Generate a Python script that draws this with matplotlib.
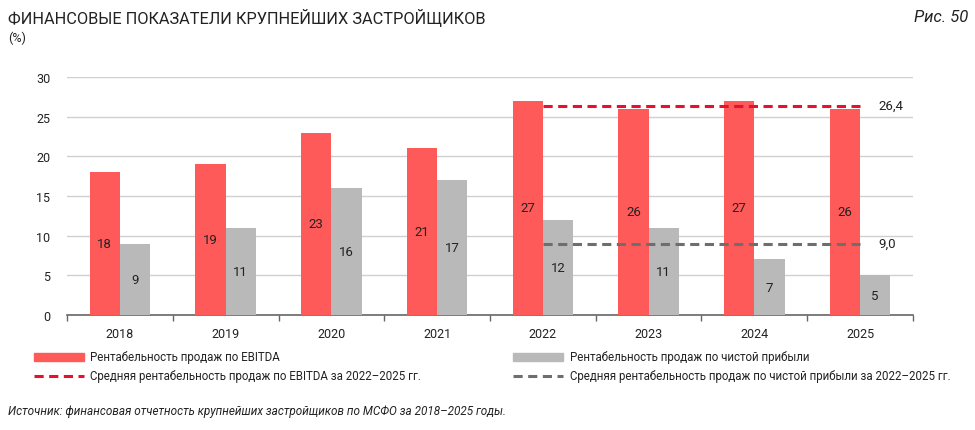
import matplotlib
matplotlib.use("Agg")
import matplotlib.pyplot as plt
import numpy as np
from matplotlib.patches import Rectangle
from matplotlib.lines import Line2D

years = ["2018", "2019", "2020", "2021", "2022", "2023", "2024", "2025"]
ebitda = [18, 19, 23, 21, 27, 26, 27, 26]
net = [9, 11, 16, 17, 12, 11, 7, 5]
avg_ebitda = 26.4
avg_net = 9.0
avg_start, avg_end = "2022", "2025"
yticks = [0, 5, 10, 15, 20, 25, 30]

title = "ФИНАНСОВЫЕ ПОКАЗАТЕЛИ КРУПНЕЙШИХ ЗАСТРОЙЩИКОВ"
fig_no = "Рис. 50"
unit = "(%)"
leg_labels = ["Рентабельность продаж по EBITDA",
              "Рентабельность продаж по чистой прибыли",
              "Средняя рентабельность продаж по EBITDA за 2022–2025 гг.",
              "Средняя рентабельность продаж по чистой прибыли за 2022–2025 гг."]
source = "Источник: финансовая отчетность крупнейших застройщиков по МСФО за 2018–2025 годы."

RED = "#FF5A5A"
GRAY = "#B8B9B8"
RED_D = "#E8102E"
GRAY_D = "#6E6E6E"
TXT = "#222222"

plt.rcParams['font.family'] = ['Roboto', 'DejaVu Sans']

W, H = 975, 431
fig = plt.figure(figsize=(W/100, H/100), dpi=100)
ax = fig.add_axes([67/W, 1-316/H, (913-67)/W, (316-78)/H])

x = np.arange(len(years))
bw = 0.285
ax.bar(x - bw/2, ebitda, bw, color=RED, zorder=3)
ax.bar(x + bw/2, net, bw, color=GRAY, zorder=3)
for i in range(len(years)):
    ax.text(x[i] - bw/2, ebitda[i]/2, str(ebitda[i]), ha='center', va='center', fontsize=9.5, color=TXT, zorder=4)
    ax.text(x[i] + bw/2, net[i]/2, str(net[i]), ha='center', va='center', fontsize=9.5, color=TXT, zorder=4)

i0, i1 = years.index(avg_start), years.index(avg_end)
ax.plot([x[i0], x[i1]], [avg_ebitda, avg_ebitda], color=RED_D, lw=2.2, ls=(0, (3, 1.8)), zorder=5)
ax.plot([x[i0], x[i1]], [avg_net, avg_net], color=GRAY_D, lw=2.2, ls=(0, (3, 1.8)), zorder=5)
ax.text(x[i1] + 0.17, avg_ebitda, f"{avg_ebitda:.1f}".replace('.', ','), ha='left', va='center', fontsize=9.5, color=TXT)
ax.text(x[i1] + 0.17, avg_net, f"{avg_net:.1f}".replace('.', ','), ha='left', va='center', fontsize=9.5, color=TXT)

ax.set_xlim(-0.5, len(years) - 0.5)
ax.set_ylim(0, 30)
ax.set_yticks(yticks)
ax.set_yticklabels([str(v) for v in yticks], fontsize=9, color=TXT)
ax.yaxis.grid(True, color="#D0D0D0", lw=1)
ax.set_axisbelow(True)
ax.tick_params(axis='y', length=0, pad=12)
ax.set_xticks(x)
ax.set_xticklabels(years, fontsize=9, color=TXT)
ax.set_xticks(np.arange(-0.5, len(years)), minor=True)
ax.tick_params(axis='x', which='major', length=0, pad=9)
ax.tick_params(axis='x', which='minor', length=4, color="#666666", width=1)
for s in ['top', 'right', 'left']:
    ax.spines[s].set_visible(False)
ax.spines['bottom'].set_color("#666666")
ax.spines['bottom'].set_linewidth(1.2)

fig.text(8/W, 1-18/H, title, fontsize=11.8, color=TXT, va='center', ha='left')
fig.text(8/W, 1-38/H, unit, fontsize=9, color=TXT, va='center', ha='left')
fig.text(968/W, 1-18/H, fig_no, fontsize=12, color=TXT, va='center', ha='right', style='italic')

def patch(x0, y0, col):
    fig.patches.append(Rectangle((x0/W, 1-(y0+4)/H), 50/W, 8/H, color=col, transform=fig.transFigure))
def dline(x0, y0, col):
    fig.lines.append(Line2D([x0/W, (x0+50)/W], [1-y0/H, 1-y0/H], color=col, lw=2.2, ls=(0, (3, 1.8)), transform=fig.transFigure))

patch(34, 358, RED)
dline(34, 377, RED_D)
patch(513, 358, GRAY)
dline(513, 377, GRAY_D)
lf = 8.3
fig.text(90/W, 1-358/H, leg_labels[0], fontsize=lf, color=TXT, va='center')
fig.text(90/W, 1-377/H, leg_labels[2], fontsize=lf, color=TXT, va='center')
fig.text(570/W, 1-358/H, leg_labels[1], fontsize=lf, color=TXT, va='center')
fig.text(570/W, 1-377/H, leg_labels[3], fontsize=lf, color=TXT, va='center')

fig.text(8/W, 1-412/H, source, fontsize=8.5, color=TXT, va='center', style='italic')

fig.savefig("out.png", dpi=100)
